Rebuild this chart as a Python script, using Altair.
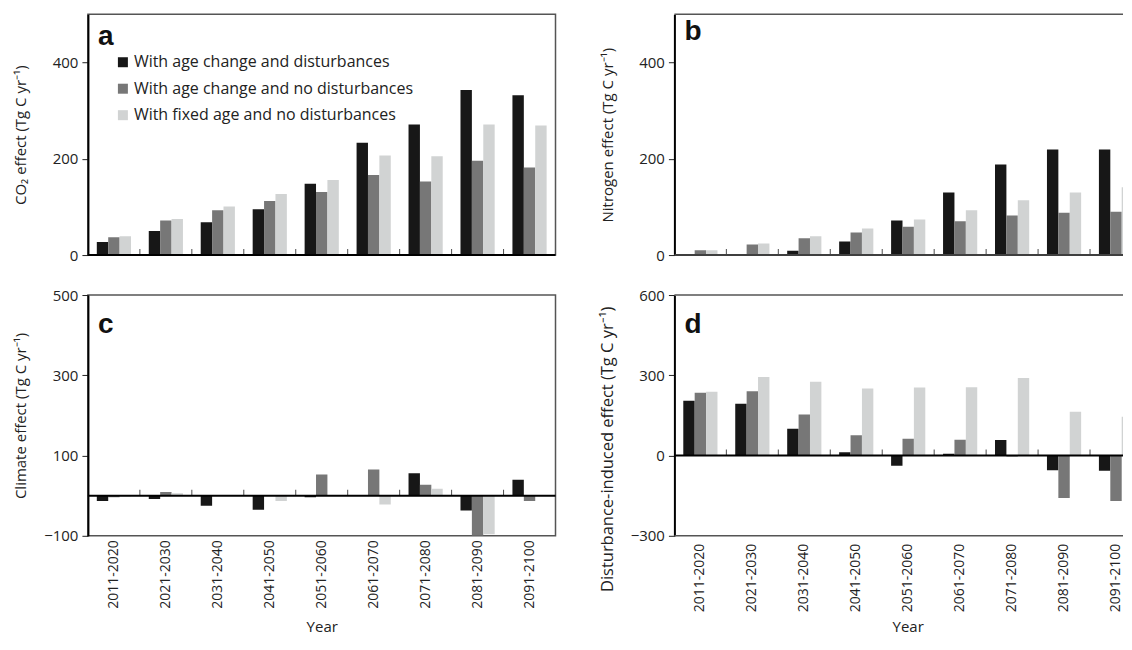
import altair as alt
import pandas as pd

periods = ["2011-2020", "2021-2030", "2031-2040", "2041-2050", "2051-2060",
           "2061-2070", "2071-2080", "2081-2090", "2091-2100"]
series_names = ["With age change and disturbances",
                "With age change and no disturbances",
                "With fixed age and no disturbances"]
colors = ["#171717", "#777777", "#d1d3d3"]

co2_age_dist = [27, 50, 68, 95, 148, 233, 271, 343, 332]
co2_age_nodist = [37, 72, 93, 112, 131, 166, 153, 196, 182]
co2_fixed_nodist = [39, 75, 101, 127, 156, 207, 205, 271, 269]

n_age_dist = [0, 0, 9, 28, 72, 130, 188, 219, 219]
n_age_nodist = [10, 22, 35, 47, 59, 70, 82, 88, 90]
n_fixed_nodist = [10, 24, 39, 55, 74, 93, 114, 130, 141]

clim_age_dist = [-13, -8, -25, -35, -4, 0, 56, -37, 40]
clim_age_nodist = [-4, 9, -1, 0, 53, 65, 27, -100, -13]
clim_fixed_nodist = [-2, 6, -1, -13, -1, -22, 17, -96, 2]

dist_age_dist = [205, 194, 100, 12, -38, 7, 58, -55, -57]
dist_age_nodist = [235, 240, 153, 76, 63, 59, -4, -159, -170]
dist_fixed_nodist = [238, 294, 276, 251, 254, 255, 290, 164, 145]

FONT = "Open Sans"
TXT = "#222222"
H = 241
FULL_W = 468
CUT_W = 449
PAD_IN = 0.342
PAD_OUT = 0.171
STEP = FULL_W / 9
XLAB_SIZE = 14
YEAR_Y = 84


def long_df(vals_list):
    rows = []
    for s, vals in zip(series_names, vals_list):
        for p, v in zip(periods, vals):
            rows.append({"period": p, "series": s, "value": v})
    return pd.DataFrame(rows)


def panel(vals_list, ydomain, yticks, ytitle, letter, letter_y, show_x,
          show_legend, cut, title_y=None, title_size=15):
    view_w = CUT_W if cut else FULL_W
    xscale = alt.Scale(domain=periods, range=[0, FULL_W],
                       paddingInner=PAD_IN, paddingOuter=PAD_OUT)
    if show_x and not cut:
        xaxis = alt.Axis(labelAngle=270, labelFont=FONT,
                         labelFontSize=XLAB_SIZE, labelColor=TXT,
                         labelPadding=4, ticks=False, domain=False,
                         grid=False, title="Year", titleFont=FONT,
                         titleFontSize=15, titleFontWeight="normal",
                         titleColor=TXT, titleY=YEAR_Y, titleX=FULL_W / 2,
                         titleBaseline="top")
    else:
        xaxis = None
    ykw = dict(values=yticks, title=ytitle, grid=False, domain=True,
               domainColor="#000000", domainWidth=2, ticks=True, tickSize=6,
               tickWidth=1, tickColor=TXT, labelFont=FONT, labelFontSize=15,
               labelColor=TXT, labelPadding=4, titleFont=FONT,
               titleFontSize=title_size, titleFontWeight="normal",
               titleColor=TXT, titleX=-67, titleBaseline="middle")
    if title_y is not None:
        ykw["titleY"] = title_y
    yaxis = alt.Axis(**ykw)
    if show_legend:
        legend = alt.Legend(orient="none", legendX=27, legendY=40, title=None,
                            symbolType="square", symbolSize=100,
                            symbolStrokeWidth=0, labelFont=FONT,
                            labelFontSize=16, labelColor=TXT,
                            rowPadding=10.5, labelOffset=3, labelLimit=400,
                            padding=0)
    else:
        legend = None

    bars = alt.Chart(long_df(vals_list)).mark_bar(clip=True).encode(
        x=alt.X("period:N", scale=xscale, axis=xaxis),
        xOffset=alt.XOffset("series:N", scale=alt.Scale(
            domain=series_names, paddingInner=0, paddingOuter=0)),
        y=alt.Y("value:Q", scale=alt.Scale(domain=ydomain, nice=False,
                                           zero=False), axis=yaxis),
        color=alt.Color("series:N", scale=alt.Scale(domain=series_names,
                                                    range=colors),
                        legend=legend),
    )
    zero = alt.Chart(pd.DataFrame({"k": [0]})).mark_rule(
        color="#000000", strokeWidth=2).encode(y=alt.datum(0))
    ticks = alt.Chart(pd.DataFrame({"period": periods[1:]})).mark_tick(
        orient="vertical", size=6, thickness=1, color="#000000",
        yOffset=-3, xOffset=-PAD_IN * STEP / 2).encode(
        x=alt.X("period:N", bandPosition=0), y=alt.datum(0))
    lab = alt.Chart(pd.DataFrame({"t": [letter]})).mark_text(
        font="Liberation Sans", fontWeight="bold", fontSize=28,
        align="left", baseline="alphabetic", color="#111111").encode(
        text="t:N", x=alt.value(10), y=alt.value(letter_y))
    layers = [bars, zero, ticks, lab]
    props = dict(width=view_w, height=H)
    if cut:
        top = alt.Chart(pd.DataFrame({"k": [0]})).mark_rule(
            color="#555555", strokeWidth=1.5).encode(y=alt.datum(ydomain[1]))
        bottom = alt.Chart(pd.DataFrame({"k": [0]})).mark_rule(
            color="#555555", strokeWidth=1.5).encode(y=alt.datum(ydomain[0]))
        layers += [top, bottom]
        props["view"] = alt.ViewBackground(strokeOpacity=0)
        if show_x:
            xlabels = alt.Chart(pd.DataFrame({"period": periods})).mark_text(
                angle=270, align="right", baseline="middle", font=FONT,
                fontSize=XLAB_SIZE, color=TXT).encode(
                x=alt.X("period:N"), y=alt.value(H + 8), text="period:N")
            year = alt.Chart(pd.DataFrame({"t": ["Year"]})).mark_text(
                align="center", baseline="top", font=FONT, fontSize=15,
                color=TXT).encode(text="t:N", x=alt.value(FULL_W / 2),
                                  y=alt.value(H + YEAR_Y))
            layers += [xlabels, year]
    return alt.layer(*layers).properties(**props)


pa = panel([co2_age_dist, co2_age_nodist, co2_fixed_nodist], [0, 500],
           [0, 200, 400], "CO\u2082 effect (Tg C yr\u207b\u00b9)", "a", 31,
           False, True, False)
pb = panel([n_age_dist, n_age_nodist, n_fixed_nodist], [0, 500],
           [0, 200, 400], "Nitrogen effect (Tg C yr\u207b\u00b9)", "b", 26,
           False, False, True)
pc = panel([clim_age_dist, clim_age_nodist, clim_fixed_nodist], [-100, 500],
           [-100, 100, 300, 500], "Climate effect (Tg C yr\u207b\u00b9)", "c",
           38, True, False, False)
pd_ = panel([dist_age_dist, dist_age_nodist, dist_fixed_nodist], [-300, 600],
            [-300, 0, 300, 600],
            "Disturbance-induced effect (Tg C yr\u207b\u00b9)", "d", 38,
            True, False, True, title_y=154, title_size=16.5)

chart = alt.concat(pa, pb, pc, pd_, columns=2,
                   spacing={"row": 40, "column": 119}, bounds="flush"
                   ).resolve_scale(x="independent", y="independent",
                                   color="independent"
                   ).resolve_legend(color="independent").properties(
    padding={"left": 5, "top": 5, "right": 0, "bottom": 0}
).configure_view(stroke="#555555", strokeWidth=1.5)

chart.save("out.html", embed_options={"renderer": "svg", "actions": False})
